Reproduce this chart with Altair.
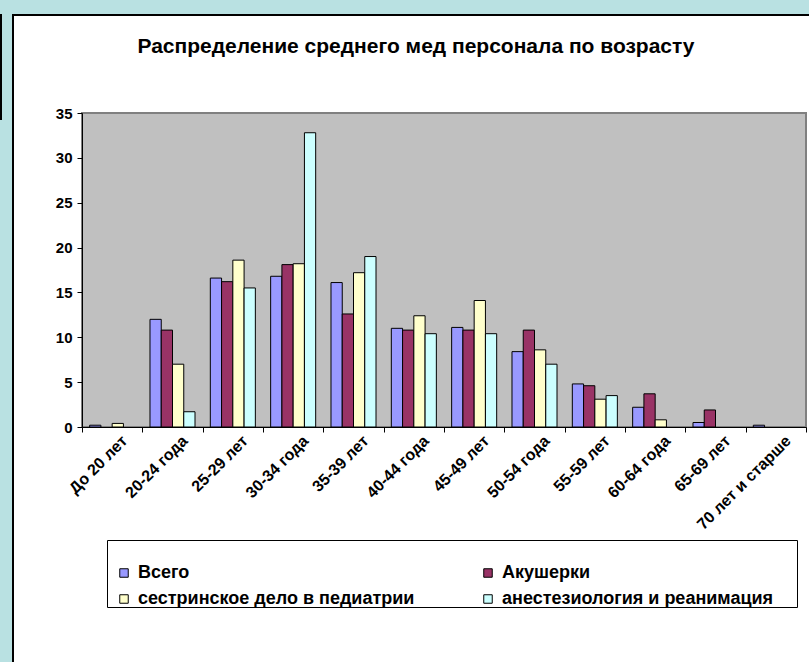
import altair as alt
import pandas as pd

# Age groups on the x axis
categories = ["До 20 лет", "20-24 года", "25-29 лет", "30-34 года", "35-39 лет",
              "40-44 года", "45-49 лет", "50-54 года", "55-59 лет", "60-64 года",
              "65-69 лет", "70 лет и старше"]

series_names = ["Всего", "Акушерки", "сестринское дело в педиатрии",
                "анестезиология и реанимация"]
series_colors = ["#9999FF", "#993366", "#FFFFCC", "#CCFFFF"]

# Share of staff (%) in each age group
vsego = [0.2, 12.0, 16.6, 16.8, 16.1, 11.0, 11.1, 8.4, 4.8, 2.2, 0.5, 0.2]
akusherki = [0.0, 10.8, 16.2, 18.1, 12.6, 10.8, 10.8, 10.8, 4.6, 3.7, 1.9, 0.0]
pediatriya = [0.4, 7.0, 18.6, 18.2, 17.2, 12.4, 14.1, 8.6, 3.1, 0.8, 0.0, 0.0]
anesteziologiya = [0.0, 1.7, 15.5, 32.8, 19.0, 10.4, 10.4, 7.0, 3.5, 0.0, 0.0, 0.0]

y_ticks = [0, 5, 10, 15, 20, 25, 30, 35]
title_text = "Распределение среднего мед персонала по возрасту"

rows = []
for name, vals in zip(series_names, [vsego, akusherki, pediatriya, anesteziologiya]):
    for cat, v in zip(categories, vals):
        rows.append({"group": cat, "series": name, "value": v})
df = pd.DataFrame(rows)

# legend is filled column by column, so list the entries so that the
# rows read "Всего | Акушерки" and "сестринское... | анестезиология..."
legend_order = [series_names[0], series_names[2], series_names[1], series_names[3]]
legend_colors = [series_colors[0], series_colors[2], series_colors[1], series_colors[3]]

# page geometry of the plot area
PAGE_W, PAGE_H = 809, 662
L, T = 82, 113
W, H = 724, 314

FONT = "Liberation Sans"

bars = alt.Chart(df).transform_filter("datum.value > 0").mark_bar(
    stroke="black", strokeWidth=1
).encode(
    x=alt.X("group:N", sort=categories,
            scale=alt.Scale(paddingInner=0, paddingOuter=0),
            axis=alt.Axis(title=None, labelAngle=-45, labelAlign="right",
                          labelBaseline="middle", tickBand="extent",
                          labelPadding=6, labelOffset=12, tickSize=5,
                          labelFontSize=16)),
    xOffset=alt.XOffset("series:N", sort=series_names,
                        scale=alt.Scale(paddingInner=0, paddingOuter=0.68)),
    y=alt.Y("value:Q", scale=alt.Scale(domain=[0, 35], nice=False),
            axis=alt.Axis(title=None, values=y_ticks, grid=False, tickSize=5,
                          labelPadding=5, labelFontSize=15)),
    color=alt.Color("series:N",
                    scale=alt.Scale(domain=legend_order, range=legend_colors),
                    legend=alt.Legend(title=None, orient="none", legendX=33,
                                      legendY=451, columns=2, columnPadding=64,
                                      rowPadding=8, symbolType="square",
                                      symbolSize=72, symbolStrokeColor="black",
                                      symbolStrokeWidth=1, labelFontSize=18,
                                      labelFontWeight="bold", labelColor="black",
                                      labelFont=FONT, labelLimit=500,
                                      labelOffset=5)),
)

one = pd.DataFrame({"k": [0]})


def frame_rect(x1, x2, y1, y2, fill, stroke=None):
    """Decorative rectangle given in page pixels."""
    kw = {"fill": fill}
    if stroke:
        kw.update(stroke=stroke, strokeWidth=1)
    return alt.Chart(one).mark_rect(**kw).encode(
        x=alt.value(x1 - L), x2=alt.value(x2 - L),
        y=alt.value(y1 - T), y2=alt.value(y2 - T))


frame = [
    frame_rect(0, PAGE_W, 0, 14, "#B9E1E2"),
    frame_rect(0, 12, 0, PAGE_H, "#B9E1E2"),
    frame_rect(12, 14, 14, PAGE_H, "black"),
    frame_rect(12, PAGE_W, 14, 16, "black"),
    frame_rect(0, 2, 14, 120, "black"),
    frame_rect(107.5, 797.5, 540.5, 607.5, "white", "black"),
]

title = alt.Chart(one).mark_text(
    text=title_text, font=FONT, fontSize=21, fontWeight="bold", color="black",
    align="center", baseline="middle"
).encode(x=alt.value(416 - L), y=alt.value(47 - T))

chart = alt.layer(*frame, title, bars).properties(
    width=W, height=H,
    padding={"left": L, "top": T, "right": PAGE_W - L - W, "bottom": PAGE_H - T - H},
    autosize=alt.AutoSizeParams(type="none"),
    background="white",
).configure_view(
    fill="#C0C0C0", stroke="#808080", strokeWidth=2
).configure_axis(
    labelFont=FONT, labelFontWeight="bold", labelColor="black",
    domainColor="black", domainWidth=1, tickColor="black", tickWidth=1
)

chart.save("out.html", embed_options={"renderer": "svg", "actions": False})
